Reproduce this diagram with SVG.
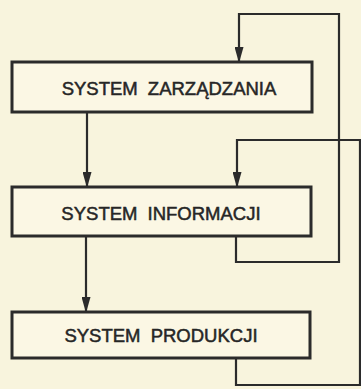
<svg xmlns="http://www.w3.org/2000/svg" width="361" height="389" viewBox="0 0 361 389">
<defs>
<marker id="arr" viewBox="0 0 16 9" refX="15" refY="4.5" markerWidth="16" markerHeight="9" markerUnits="userSpaceOnUse" orient="auto">
<path d="M0,0 L16,4.5 L0,9 Z" fill="#2b2b2b"/>
</marker>
<style>
.box{fill:#fbf7e4;stroke:#2b2b2b;stroke-width:3}
.lbl{font-family:"Liberation Sans",Arial,sans-serif;font-size:18.5px;fill:#262626;stroke:#262626;stroke-width:0.5;text-anchor:middle;word-spacing:5px}
.c{fill:none;stroke:#2b2b2b;stroke-width:2.2}
</style>
</defs>
<rect width="361" height="389" fill="#f8f4dd"/>
<g id="connectors">
<path class="c" d="M87,112 V187" marker-end="url(#arr)"/>
<path class="c" d="M86,236 V312" marker-end="url(#arr)"/>
<path class="c" d="M236,236 V262 H339 V14 H239 V62" marker-end="url(#arr)"/>
<path class="c" d="M236,358 V385 H360 V140 H237 V187" marker-end="url(#arr)"/>
</g>
<g id="node-zarzadzania">
<rect class="box" x="12" y="62" width="300" height="50"/>
<text class="lbl" x="169" y="95">SYSTEM ZARZĄDZANIA</text>
</g>
<g id="node-informacji">
<rect class="box" x="12" y="187" width="299" height="49"/>
<text class="lbl" x="161" y="220">SYSTEM INFORMACJI</text>
</g>
<g id="node-produkcji">
<rect class="box" x="12" y="312" width="298" height="46"/>
<text class="lbl" x="161" y="342">SYSTEM PRODUKCJI</text>
</g>
</svg>
